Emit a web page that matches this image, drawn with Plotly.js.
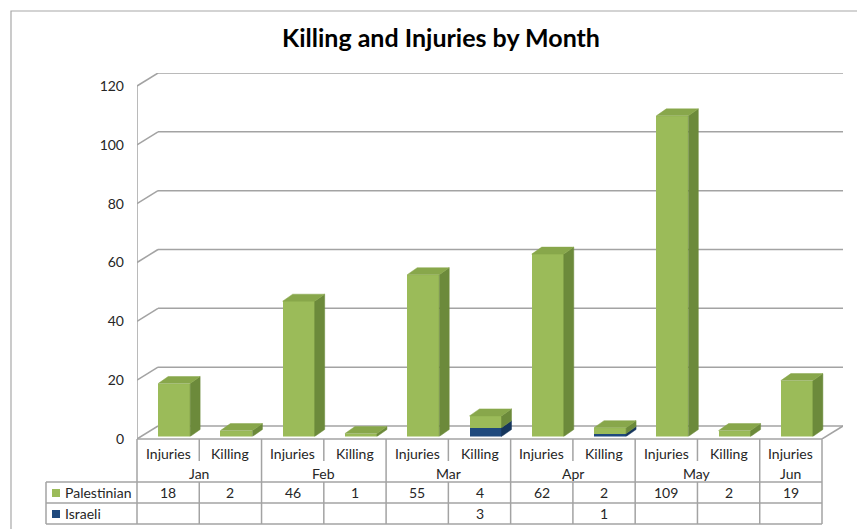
<!DOCTYPE html>
<html>
<head>
<meta charset="utf-8">
<script src="https://cdn.plot.ly/plotly-3.0.1.min.js"></script>
<style>
  html, body { margin: 0; padding: 0; background: #fff; }
  #chart { width: 857px; height: 529px; }
</style>
</head>
<body>
<div id="chart"></div>
<script>
// ---------------- DATA ----------------
const categories = ['Injuries', 'Killing', 'Injuries', 'Killing', 'Injuries', 'Killing',
                    'Injuries', 'Killing', 'Injuries', 'Killing', 'Injuries'];
const months = ['Jan', 'Jan', 'Feb', 'Feb', 'Mar', 'Mar', 'Apr', 'Apr', 'May', 'May', 'Jun'];
const palestinian = [18, 2, 46, 1, 55, 4, 62, 2, 109, 2, 19];
const israeli = [null, null, null, null, null, 3, null, 1, null, null, null];
const seriesNames = ['Palestinian', 'Israeli'];
const yTicks = [0, 20, 40, 60, 80, 100, 120];
const chartTitle = 'Killing and Injuries by Month';

// ---------------- GEOMETRY ----------------
const W = 857, H = 529;
const PX_L = 137, PX_R = 822;
const N = categories.length;
const COLW = (PX_R - PX_L) / N;
const WALL_DX = 21, WALL_DY = 13;
const Y0 = 439, Y120 = 86;
const K = (Y0 - Y120) / 120;              // px per unit
const D = WALL_DX / COLW;                 // wall depth in x units
const E = WALL_DY / K;                    // wall depth in y units
const xRange = [-0.5, N - 0.5 + D];
const yRange = [0, 120 + E];
const yTopPx = Y0 - (120 + E) * K;
const xDomain = [PX_L / W, (PX_R + WALL_DX) / W];
const yDomain = [1 - Y0 / H, 1 - yTopPx / H];
const BAR_SHIFT = 2.5;                    // bars sit slightly behind the front plane
const yDomain2 = [1 - (Y0 - BAR_SHIFT) / H, 1 - (yTopPx - BAR_SHIFT) / H];
const BAR_W = 32 / COLW, BAR_OFF = -10 / COLW;
const BDX = 10 / COLW, BDY = 7 / K;

const FONT = 'Lato, "Open Sans", sans-serif';
const GRID = '#A3A3A3';
const TXT = '#262626';

const colors = {
  Palestinian: {front: '#9BBB59', side: '#6C8A3B', top: '#88A74B'},
  Israeli: {front: '#1F497D', side: '#16365C', top: '#2B5A92'}
};

const idx = categories.map((_, i) => i);
const traces = [];

// front faces (stacked bars)
traces.push({
  type: 'bar', name: seriesNames[1], x: idx, y: israeli,
  width: BAR_W, offset: BAR_OFF, marker: {color: colors.Israeli.front, line: {width: 0}},
  xaxis: 'x2', yaxis: 'y2', hoverinfo: 'skip', showlegend: false
});
traces.push({
  type: 'bar', name: seriesNames[0], x: idx, y: palestinian,
  width: BAR_W, offset: BAR_OFF, marker: {color: colors.Palestinian.front, line: {width: 0}},
  xaxis: 'x2', yaxis: 'y2', hoverinfo: 'skip', showlegend: false
});

function poly(xs, ys, color) {
  traces.push({
    type: 'scatter', mode: 'lines', x: xs.concat([xs[0]]), y: ys.concat([ys[0]]),
    fill: 'toself', fillcolor: color, line: {color: color, width: 0.5},
    xaxis: 'x2', yaxis: 'y2', hoverinfo: 'skip', showlegend: false
  });
}

idx.forEach(i => {
  const xl = i + BAR_OFF, xr = i + BAR_OFF + BAR_W;
  const segs = [];
  let base = 0;
  if (israeli[i]) { segs.push({b: base, t: base + israeli[i], c: colors.Israeli}); base += israeli[i]; }
  if (palestinian[i]) { segs.push({b: base, t: base + palestinian[i], c: colors.Palestinian}); base += palestinian[i]; }
  segs.forEach((s, j) => {
    poly([xr, xr, xr + BDX, xr + BDX], [s.b, s.t, s.t + BDY, s.b + BDY], s.c.side);
    if (j === segs.length - 1) {
      poly([xl, xr, xr + BDX, xl + BDX], [s.t, s.t, s.t + BDY, s.t + BDY], s.c.top);
    }
  });
});

// ---------------- WALLS (shapes on main axes) ----------------
const shapes = [];
const ln = (x0, y0, x1, y1, extra) => Object.assign({
  type: 'line', xref: 'x', yref: 'y', x0, y0, x1, y1,
  line: {color: GRID, width: 1.5}, layer: 'below'
}, extra || {});

yTicks.forEach(v => {
  shapes.push(ln(-0.5 + D, v + E, N - 0.5 + D, v + E));   // back wall gridline
  shapes.push(ln(-0.5, v, -0.5 + D, v + E));               // side wall diagonal
});
shapes.push(ln(-0.5, 0, -0.5, 120));                        // front vertical axis
shapes.push(ln(N - 0.5, 0, N - 0.5 + D, E));                // floor right edge

// ---------------- DATA TABLE ----------------
const px2paperX = px => px / W;
const px2paperY = py => 1 - py / H;
const colPx = i => PX_L + i * COLW;   // left edge of column i
const pl = (x0, y0, x1, y1) => ({
  type: 'line', xref: 'paper', yref: 'paper',
  x0: px2paperX(x0), y0: px2paperY(y0), x1: px2paperX(x1), y1: px2paperY(y1),
  line: {color: GRID, width: 1.5}, layer: 'above'
});
const T_TOP = 439, T_CAT = 461, T_R1 = 482, T_R2 = 503, T_BOT = 524, LEG_L = 46;

shapes.push(pl(PX_L, T_TOP, PX_R, T_TOP));
[T_R1, T_R2, T_BOT].forEach(y => shapes.push(pl(LEG_L, y, PX_R, y)));
shapes.push(pl(LEG_L, T_R1, LEG_L, T_BOT));
for (let i = 0; i <= N; i++) {
  const x = colPx(i);
  const monthBoundary = i === 0 || i === N || months[i] !== months[i - 1];
  if (monthBoundary) {
    shapes.push(pl(x, T_TOP, x, T_BOT));
  } else {
    shapes.push(pl(x, T_TOP, x, T_CAT));
    shapes.push(pl(x, T_R1, x, T_BOT));
  }
}

// legend keys in table
shapes.push({type: 'rect', xref: 'paper', yref: 'paper',
  x0: px2paperX(52), x1: px2paperX(60), y0: px2paperY(497), y1: px2paperY(489),
  fillcolor: colors.Palestinian.front, line: {width: 0}});
shapes.push({type: 'rect', xref: 'paper', yref: 'paper',
  x0: px2paperX(52), x1: px2paperX(60), y0: px2paperY(518), y1: px2paperY(510),
  fillcolor: colors.Israeli.front, line: {width: 0}});

// outer chart border
shapes.push({type: 'rect', xref: 'paper', yref: 'paper',
  x0: px2paperX(11), x1: px2paperX(880), y0: px2paperY(560), y1: px2paperY(11),
  line: {color: '#A8A8A8', width: 1.2}, fillcolor: 'rgba(0,0,0,0)', layer: 'below'});

const annotations = [];
const tf = {family: FONT, size: 14, color: TXT};
const ann = (x, py, text, extra) => Object.assign({
  xref: 'x', yref: 'paper', x, y: px2paperY(py), text, showarrow: false,
  xanchor: 'center', yanchor: 'middle', font: tf
}, extra || {});

idx.forEach(i => {
  annotations.push(ann(i, 453, categories[i]));
  annotations.push(ann(i, 492.5, palestinian[i] == null ? '' : String(palestinian[i])));
  if (israeli[i] != null) annotations.push(ann(i, 513.5, String(israeli[i])));
});
// month group labels
const groups = [];
months.forEach((m, i) => {
  if (!groups.length || groups[groups.length - 1].m !== m) groups.push({m, s: i, e: i});
  else groups[groups.length - 1].e = i;
});
groups.forEach(g => annotations.push(ann((g.s + g.e) / 2, 473, g.m)));
annotations.push({xref: 'paper', yref: 'paper', x: px2paperX(63), y: px2paperY(492.5),
  text: seriesNames[0], showarrow: false, xanchor: 'left', yanchor: 'middle', font: tf});
annotations.push({xref: 'paper', yref: 'paper', x: px2paperX(63), y: px2paperY(513.5),
  text: seriesNames[1], showarrow: false, xanchor: 'left', yanchor: 'middle', font: tf});

const hiddenAxis = {showgrid: false, zeroline: false, showline: false, showticklabels: false, ticks: '', fixedrange: true};

const layout = {
  width: W, height: H,
  margin: {l: 0, r: 0, t: 0, b: 0},
  paper_bgcolor: '#ffffff', plot_bgcolor: 'rgba(0,0,0,0)',
  showlegend: false, barmode: 'stack', bargap: 0,
  title: {text: '<b>' + chartTitle + '</b>', x: 441 / W, xanchor: 'center',
          y: px2paperY(38), yanchor: 'middle', yref: 'paper',
          font: {family: FONT, size: 25, color: '#000'}},
  xaxis: Object.assign({}, hiddenAxis, {range: xRange, domain: xDomain, anchor: 'y'}),
  yaxis: {range: yRange, domain: yDomain, anchor: 'x', tickvals: yTicks, ticktext: yTicks.map(String),
          showgrid: false, zeroline: false, showline: false, ticks: '', ticklabelstandoff: 12,
          tickfont: {family: FONT, size: 14, color: TXT}, fixedrange: true},
  xaxis2: Object.assign({}, hiddenAxis, {range: xRange, domain: xDomain, anchor: 'y2'}),
  yaxis2: Object.assign({}, hiddenAxis, {range: yRange, domain: yDomain2, anchor: 'x2'}),
  shapes, annotations
};

Plotly.newPlot('chart', traces, layout, {displayModeBar: false, staticPlot: true});
</script>
</body>
</html>
